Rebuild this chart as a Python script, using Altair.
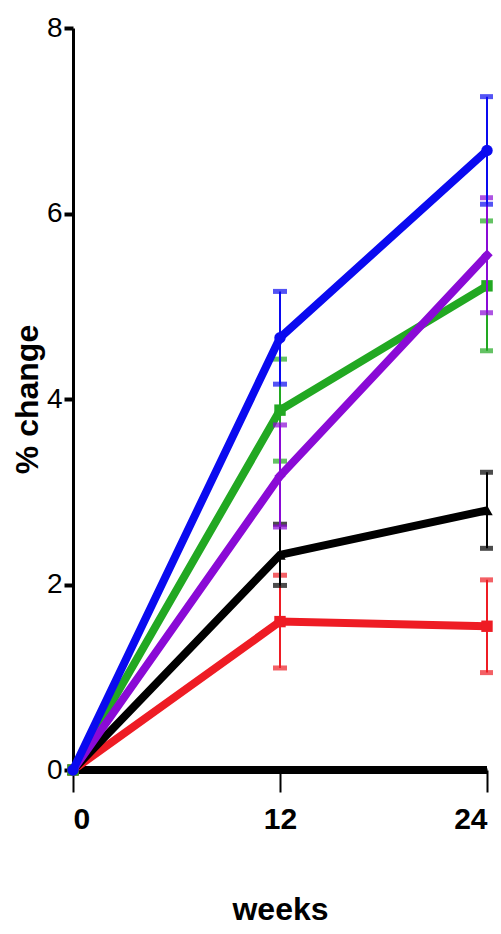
import altair as alt
import pandas as pd

weeks = [0, 12, 24]
series = ["Control", "Red", "Black", "Green", "Purple", "Blue"]
colors = ["#000000", "#ee1c24", "#000000", "#22a822", "#8a0ad6", "#0a0af0"]
shapes = ["circle", "square", "triangle-up", "square", "diamond", "circle"]

control_mean = [0, 0, 0]
red_mean = [0, 1.60, 1.55]
black_mean = [0, 2.32, 2.80]
green_mean = [0, 3.88, 5.22]
purple_mean = [0, 3.17, 5.55]
blue_mean = [0, 4.66, 6.68]

control_sem = [0, 0, 0]
red_sem = [0, 0.50, 0.50]
black_sem = [0, 0.33, 0.41]
green_sem = [0, 0.55, 0.70]
purple_sem = [0, 0.55, 0.62]
blue_sem = [0, 0.50, 0.58]

means = [control_mean, red_mean, black_mean, green_mean, purple_mean, blue_mean]
sems = [control_sem, red_sem, black_sem, green_sem, purple_sem, blue_sem]

FONT = "Liberation Sans, Arial, sans-serif"

xscale = alt.Scale(domain=[0, 24], nice=False, zero=False)
yscale = alt.Scale(domain=[0, 8], nice=False)

xaxis = alt.Axis(values=weeks, title="weeks", grid=False, domainColor="black",
                 domainWidth=4, tickColor="black", tickWidth=2, tickSize=22,
                 labelFontSize=30, labelFont=FONT, labelFontWeight="bold",
                 labelColor="black", labelPadding=12, titleFont=FONT,
                 titleFontSize=32, titleFontWeight="bold", titleColor="black",
                 titlePadding=60)
yaxis = alt.Axis(values=[0, 2, 4, 6, 8], format="d", title="% change",
                 grid=False, domainColor="black", domainWidth=3,
                 tickColor="black", tickWidth=4, tickSize=9,
                 labelFontSize=28, labelFont=FONT, labelColor="black",
                 labelPadding=2, titleFont=FONT, titleFontSize=32,
                 titleFontWeight="bold", titleColor="black", titlePadding=2)

layers = []
for i, name in enumerate(series):
    df = pd.DataFrame({
        "week": weeks,
        "mean": means[i],
        "lo": [m - s for m, s in zip(means[i], sems[i])],
        "hi": [m + s for m, s in zip(means[i], sems[i])],
        "sem": sems[i],
    })
    base = alt.Chart(df)
    col = colors[i]
    if i == 0:
        layers.append(base.mark_line(color=col, strokeWidth=8).encode(
            x=alt.X("week:Q", scale=xscale, axis=xaxis),
            y=alt.Y("mean:Q", scale=yscale, axis=yaxis)))
        continue
    eb = base.transform_filter("datum.sem > 0")
    layers.append(eb.mark_rule(color=col, strokeWidth=2).encode(
        x="week:Q", y="lo:Q", y2="hi:Q"))
    layers.append(eb.mark_tick(color=col, orient="horizontal", size=14,
                               thickness=5).encode(x="week:Q", y="hi:Q"))
    layers.append(eb.mark_tick(color=col, orient="horizontal", size=14,
                               thickness=5).encode(x="week:Q", y="lo:Q"))
    layers.append(base.mark_line(color=col, strokeWidth=8).encode(
        x="week:Q", y="mean:Q"))
    layers.append(base.mark_point(color=col, shape=shapes[i], filled=True,
                                  size=130, opacity=1).encode(
        x="week:Q", y="mean:Q"))

chart = alt.layer(*layers).properties(
    width=414, height=742,
    autosize=alt.AutoSizeParams(type="none"),
    padding={"left": 65, "top": 20, "right": 6, "bottom": 160},
    background="white",
).configure_view(stroke=None)

chart.save("out.html", embed_options={"renderer": "svg", "actions": False})
